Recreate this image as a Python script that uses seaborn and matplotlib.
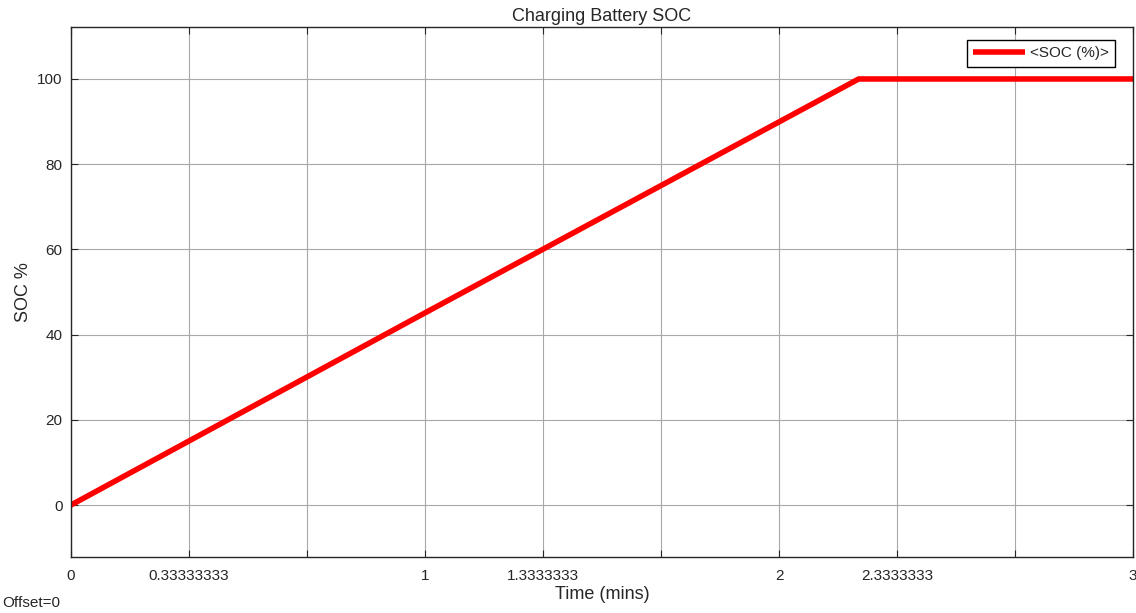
import numpy as np
import pandas as pd
import matplotlib
matplotlib.use("Agg")
import matplotlib.pyplot as plt
import seaborn as sns

# values
time_mins = [0, 1, 2.225, 3]
soc_pct = [0, 45.1, 100, 100]

x_ticks = [0, 1/3, 2/3, 1, 4/3, 5/3, 2, 7/3, 8/3, 3]
x_labels = ["0", "0.33333333", "", "1", "1.3333333", "", "2", "2.3333333", "", "3"]
y_ticks = [0, 20, 40, 60, 80, 100]

sns.set_style("ticks")
plt.rcParams['font.family'] = ['Liberation Sans', 'DejaVu Sans']

df = pd.DataFrame({"Time (mins)": time_mins, "SOC %": soc_pct})

fig = plt.figure(figsize=(11.36, 6.13), dpi=100)
ax = fig.add_axes([71/1136, 1 - 557/613, 1062/1136, 530/613])

sns.lineplot(data=df, x="Time (mins)", y="SOC %", ax=ax, color="#ff0000",
             linewidth=4, label="<SOC (%)>")

ax.set_xlim(0, 3)
ax.set_ylim(-12.2, 112.2)
ax.set_xticks(x_ticks)
ax.set_xticklabels(x_labels)
ax.set_yticks(y_ticks)
ax.grid(True, color="#a8a8a8", linewidth=0.8)
ax.tick_params(direction="in", length=5, top=True, right=True, labelsize=11,
               colors="#262626", pad=9)
ax.tick_params(axis="y", pad=6)
for s in ax.spines.values():
    s.set_color("#262626")
    s.set_linewidth(1)

ax.set_title("Charging Battery SOC", fontsize=13, pad=4)
ax.set_xlabel("Time (mins)", fontsize=13, labelpad=2)
ax.set_ylabel("SOC %", fontsize=13, labelpad=4)

leg = ax.legend(loc="upper right", fontsize=11, fancybox=False, framealpha=1,
                handlelength=3.4, handletextpad=0.3, borderpad=0.42,
                borderaxespad=0, bbox_to_anchor=(0.983, 0.976))
leg.get_frame().set_edgecolor("#000000")
leg.get_frame().set_linewidth(1)
for h in leg.get_lines():
    h.set_solid_capstyle("butt")

fig.text(2/1136, 1 - 603/613, "Offset=0", fontsize=11, va="center")

fig.savefig("out.png", dpi=100)
